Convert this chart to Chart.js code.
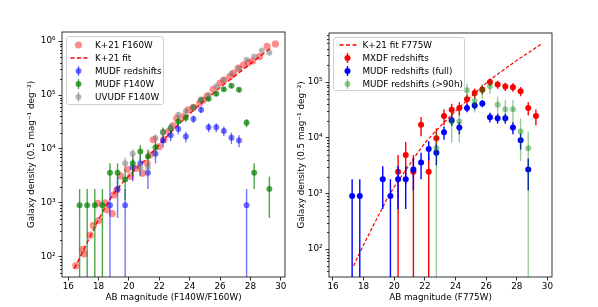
<!DOCTYPE html>
<html>
<head>
<meta charset="utf-8">
<script src="https://cdn.jsdelivr.net/npm/chart.js@4.4.1/dist/chart.umd.min.js"></script>
<style>
  body { margin: 0; background: #fff; width: 598px; height: 307px; overflow: hidden; position: relative; font-family: "DejaVu Sans", sans-serif; }
  canvas { position: absolute; top: 0; }
  .legend { position: absolute; background: rgba(255,255,255,0.8); border: 1px solid #d0d0d0; border-radius: 3px; font-size: 8.8px; color: #000; box-sizing: border-box; }
  .legend .row { position: absolute; left: 0; height: 12px; line-height: 12px; white-space: nowrap; }
  .legend svg { position: absolute; left: 0; top: 0; }
  .legend span { position: absolute; top: 0; }
</style>
</head>
<body>
<canvas id="left" width="299" height="307" style="left:0"></canvas>
<canvas id="right" width="310" height="307" style="left:288px"></canvas>
<div id="legLeft" class="legend" style="left:66px;top:36px;width:98px;height:69px"></div>
<div id="legRight" class="legend" style="left:333px;top:37px;width:132px;height:54px"></div>
<script>
// ---- left panel data ----
const k21X = [16.5,16.95,17.05,17.45,17.65,17.95,18.0,18.45,18.55,18.9,19.0,19.2,19.45,19.9,20.1,20.5,20.9,21.2,21.4,21.6,22.0,22.3,22.6,22.9,23.15,23.6,23.9,24.25,24.65,24.9,25.15,25.55,26.0,26.25,26.65,26.9,27.2,27.55,27.85,28.15,28.6,29.1,29.65];
const k21Y = [68,137,112,251,380,977,468,1000,741,630,1400,1730,3160,4200,3100,4370,3550,5400,7800,14800,11000,15000,21000,27000,37000,40000,53000,59000,71000,81000,96000,128000,166000,190000,220000,255000,316000,363000,400000,430000,516000,800000,890000];

const fitLX = [16.4,17,17.5,18,18.5,19,19.5,20,20.5,21,21.5,22,22.5,23,23.5,24,24.5,25,25.5,26,26.5,27,27.5,28,28.5,29,29.4];
const fitLY = [60,132,257,490,900,1480,2240,3160,4400,6000,8500,12000,17000,24000,33000,45000,60000,79000,104000,138000,178000,229000,295000,380000,490000,630000,760000];

const mudfZX = [18.75,19.25,19.75,20.25,20.75,21.25,21.75,22.25,22.75,23.25,23.75,24.25,24.75,25.25,25.75,26.25,26.75,27.25,27.75];
const mudfZY = [900,1800,900,4500,5400,3600,8100,14400,18000,23400,17100,36000,53100,25200,25200,21600,16200,14400,900];
const mudfZE = [900,1273,900,2012,2205,1800,2700,3600,4025,4589,3923,5692,6913,4762,4762,4409,3818,3600,900];

const mudfFX = [16.75,17.25,17.75,18.25,18.75,19.25,19.75,20.25,20.75,21.25,21.75,22.25,22.75,23.25,23.75,24.25,24.75,25.25,25.75,26.25,26.75,27.25,27.75,28.25,29.25];
const mudfFY = [900,900,900,900,3600,3600,2700,5400,9000,7200,10800,20700,24300,32400,37800,58500,81000,85500,106200,127800,148500,125100,30600,3600,1800];
const mudfFE = [900,900,900,900,1800,1800,1559,2205,2846,2546,3118,4316,4677,5400,5833,7256,8538,8772,9777,10725,11561,10611,5248,1800,1273];

const uvudfX = [19.75,20.25,20.75,21.25,21.75,22.25,22.75,23.25,23.75,24.25,24.75,25.25,25.75,26.25,26.75,27.25,27.75,28.25,28.75,29.25];
const uvudfY = [5400,8100,4500,4500,16000,20000,25000,43000,50000,59000,83000,100000,145000,190000,250000,310000,450000,520000,670000,610000];
const uvudfE = [1559,1909,1423,1423,2683,3000,3354,4399,4743,5153,6112,6708,8078,9247,10607,11811,14230,15297,17364,16568];

// ---- right panel data ----
const fitRX = [17.35,17.5,18,18.5,19,19.5,20,20.5,21,21.5,22,22.5,23,23.5,24,24.5,25,25.5,26,26.5,27,27.5,28,28.5,29,29.6];
const fitRY = [50,62,120,224,417,776,1320,2090,3310,5250,8000,11500,16000,22000,30000,40500,53700,72400,95500,123000,155000,195000,245000,302000,372000,479000];

const mxdfX = [20.25,20.75,21.25,21.75,22.25,22.75,23.25,23.75,24.25,24.75,25.25,25.75,26.25,26.75,27.25,27.75,28.25,28.75,29.25];
const mxdfY = [2450,4900,2450,17150,2450,9800,24500,31850,34300,49000,63700,73500,100450,90650,83300,80850,68600,34300,24500];
const mxdfE = [2450,3465,2450,6482,2450,4900,7748,8834,9167,10957,12493,13419,15688,14903,14286,14074,12964,9167,7748];

const fullX = [17.25,17.75,19.25,19.75,20.25,20.75,21.25,21.75,22.25,22.75,23.25,23.75,24.25,24.75,25.25,25.75,26.25,26.75,27.25,27.75,28.25,28.75];
const fullY = [900,900,1800,900,1800,1800,2700,3600,6300,5400,12600,20700,15300,34200,37800,41400,23400,22500,22500,15300,9000,2700];
const fullE = [900,900,1273,900,1273,1273,1559,1800,2381,2205,3367,4316,3711,5548,5833,6104,4589,4500,4500,3711,2846,1559];

const deepX = [22.75,23.75,24.25,24.75,25.25,25.75,26.25,26.75,27.25,27.75,28.25,28.75];
const deepY = [6500,19500,19500,71500,45500,71500,84500,39000,32500,32500,13000,6500];
const deepE = [6500,11258,11258,21558,17197,21558,23436,15922,14534,14534,9192,6500];

// ---- axes ----
const xTicks = [16,18,20,22,24,26,28,30];
const yTicksLeft = [1e2,1e3,1e4,1e5,1e6];
const yTicksRight = [1e2,1e3,1e4,1e5];
const supText = {2:'10²',3:'10³',4:'10⁴',5:'10⁵',6:'10⁶'};

const FONT = { family: '"DejaVu Sans", sans-serif', size: 8.8 };
const pts = (xs, ys) => xs.map((x, i) => ({ x: x, y: ys[i] }));

// error bars under markers, frame and minor log ticks
const errPlugin = {
  id: 'errbars',
  beforeDatasetDraw(chart, args) {
    const ds = chart.data.datasets[args.index];
    if (!ds.errors) return;
    const { ctx, chartArea: a, scales: { x, y } } = chart;
    ctx.save();
    ctx.beginPath();
    ctx.rect(a.left, a.top, a.right - a.left, a.bottom - a.top);
    ctx.clip();
    ctx.strokeStyle = ds.pointBackgroundColor;
    ctx.lineWidth = 1.4;
    ds.data.forEach((p, i) => {
      const e = ds.errors[i];
      const px = x.getPixelForValue(p.x);
      const top = y.getPixelForValue(p.y + e);
      const lo = p.y - e;
      const bot = lo > 0 ? y.getPixelForValue(lo) : a.bottom;
      ctx.beginPath();
      ctx.moveTo(px, top);
      ctx.lineTo(px, bot);
      ctx.stroke();
    });
    ctx.restore();
  },
  afterDraw(chart) {
    const { ctx, chartArea: a, scales: { y } } = chart;
    ctx.save();
    ctx.strokeStyle = '#000';
    ctx.lineWidth = 0.8;
    for (let d = Math.floor(Math.log10(y.min)); d <= Math.ceil(Math.log10(y.max)); d++) {
      for (let k = 2; k <= 9; k++) {
        const v = k * Math.pow(10, d);
        if (v < y.min || v > y.max) continue;
        const py = Math.round(y.getPixelForValue(v)) + 0.5;
        ctx.beginPath();
        ctx.moveTo(a.left, py);
        ctx.lineTo(a.left - 2, py);
        ctx.stroke();
      }
    }
    ctx.strokeRect(a.left, a.top, a.right - a.left, a.bottom - a.top);
    ctx.restore();
  }
};

function makeChart(id, datasets, cfg) {
  return new Chart(document.getElementById(id), {
    type: 'scatter',
    data: { datasets: datasets },
    plugins: [errPlugin],
    options: {
      responsive: false,
      animation: false,
      devicePixelRatio: 1,
      layout: { padding: { left: 0, right: cfg.padRight, top: cfg.padTop, bottom: 0 } },
      plugins: { legend: { display: false }, tooltip: { enabled: false } },
      scales: {
        x: {
          type: 'linear',
          min: cfg.xMin, max: cfg.xMax,
          afterBuildTicks: s => { s.ticks = xTicks.map(v => ({ value: v })); },
          afterFit: s => { s.height = 30; },
          grid: { drawOnChartArea: false, tickLength: 3.5, tickColor: '#000', tickWidth: 0.8 },
          border: { display: false },
          ticks: { color: '#000', font: FONT, padding: 1, maxRotation: 0, callback: v => String(v) },
          title: { display: true, text: cfg.xTitle, color: '#000', font: FONT, padding: { top: 0, bottom: 4 } }
        },
        y: {
          type: 'logarithmic',
          min: cfg.yMin, max: cfg.yMax,
          afterBuildTicks: s => { s.ticks = cfg.yTicks.map(v => ({ value: v })); },
          afterFit: s => { s.width = cfg.yWidth; },
          grid: { drawOnChartArea: false, tickLength: 3.5, tickColor: '#000', tickWidth: 0.8 },
          border: { display: false },
          ticks: { color: '#000', font: FONT, padding: 3, callback: v => supText[Math.round(Math.log10(v))] },
          title: { display: true, text: 'Galaxy density (0.5 mag⁻¹ deg⁻²)', color: '#000', font: FONT, padding: { top: cfg.yTitlePad, bottom: 0 } }
        }
      }
    }
  });
}

makeChart('left', [
  { data: pts(k21X, k21Y), pointRadius: 3.6, pointBackgroundColor: 'rgba(255,0,0,0.45)', pointBorderWidth: 0, order: 4 },
  { data: pts(fitLX, fitLY), showLine: true, pointRadius: 0, borderColor: '#ff0000', borderWidth: 1.4, borderDash: [4.5, 2.5], order: 3 },
  { data: pts(mudfZX, mudfZY), errors: mudfZE, pointRadius: 3, pointBackgroundColor: 'rgba(0,0,255,0.55)', pointBorderWidth: 0, order: 2 },
  { data: pts(mudfFX, mudfFY), errors: mudfFE, pointRadius: 3, pointBackgroundColor: 'rgba(0,128,0,0.7)', pointBorderWidth: 0, order: 1 },
  { data: pts(uvudfX, uvudfY), errors: uvudfE, pointRadius: 3, pointBackgroundColor: 'rgba(128,128,128,0.55)', pointBorderWidth: 0, order: 0 }
], { padRight: 14, padTop: 32, xMin: 15.59, xMax: 30.28, yMin: 42, yMax: 1.48e6, yTicks: yTicksLeft, yWidth: 62, yTitlePad: 26, xTitle: 'AB magnitude (F140W/F160W)' });

makeChart('right', [
  { data: pts(fitRX, fitRY), showLine: true, pointRadius: 0, borderColor: '#ff0000', borderWidth: 1.2, borderDash: [3.5, 2], order: 3 },
  { data: pts(mxdfX, mxdfY), errors: mxdfE, pointRadius: 3, pointBackgroundColor: '#ff0000', pointBorderWidth: 0, order: 2 },
  { data: pts(fullX, fullY), errors: fullE, pointRadius: 3, pointBackgroundColor: '#0000ff', pointBorderWidth: 0, order: 1 },
  { data: pts(deepX, deepY), errors: deepE, pointRadius: 3, pointBackgroundColor: 'rgba(0,128,0,0.4)', pointBorderWidth: 0, order: 0 }
], { padRight: 46, padTop: 33, xMin: 15.74, xMax: 30.3, yMin: 31.6, yMax: 7.6e5, yTicks: yTicksRight, yWidth: 41, yTitlePad: 8, xTitle: 'AB magnitude (F775W)' });

// ---- legends ----
function buildLegend(id, items, cx, textLeft, firstMid, step) {
  const box = document.getElementById(id);
  items.forEach((it, i) => {
    const row = document.createElement('div');
    row.className = 'row';
    row.style.top = (firstMid + step * i - 6) + 'px';
    row.style.width = '100%';
    let g = '';
    if (it.kind === 'line') {
      g = `<line x1="${cx - 8}" y1="6" x2="${cx + 9}" y2="6" stroke="${it.color}" stroke-width="1.4" stroke-dasharray="4 2.5"/>`;
    } else if (it.kind === 'dot') {
      g = `<circle cx="${cx}" cy="6" r="3.6" fill="${it.color}"/>`;
    } else {
      g = `<line x1="${cx}" y1="1" x2="${cx}" y2="11" stroke="${it.color}" stroke-width="1.4"/><circle cx="${cx}" cy="6" r="3" fill="${it.color}"/>`;
    }
    row.innerHTML = `<svg width="30" height="12">${g}</svg><span style="left:${textLeft}px"></span>`;
    row.querySelector('span').textContent = it.label;
    box.appendChild(row);
  });
}

buildLegend('legLeft', [
  { label: 'K+21 F160W', kind: 'dot', color: 'rgba(255,0,0,0.45)' },
  { label: 'K+21 fit', kind: 'line', color: '#ff0000' },
  { label: 'MUDF redshifts', kind: 'err', color: 'rgba(0,0,255,0.55)' },
  { label: 'MUDF F140W', kind: 'err', color: 'rgba(0,128,0,0.7)' },
  { label: 'UVUDF F140W', kind: 'err', color: 'rgba(128,128,128,0.55)' }
], 11.5, 28, 8.3, 12.9);

buildLegend('legRight', [
  { label: 'K+21 fit F775W', kind: 'line', color: '#ff0000' },
  { label: 'MXDF redshifts', kind: 'err', color: '#ff0000' },
  { label: 'MUDF redshifts (full)', kind: 'err', color: '#0000ff' },
  { label: 'MUDF redshifts (>90h)', kind: 'err', color: 'rgba(0,128,0,0.4)' }
], 13.5, 28.5, 6.7, 13.1);
</script>
</body>
</html>
